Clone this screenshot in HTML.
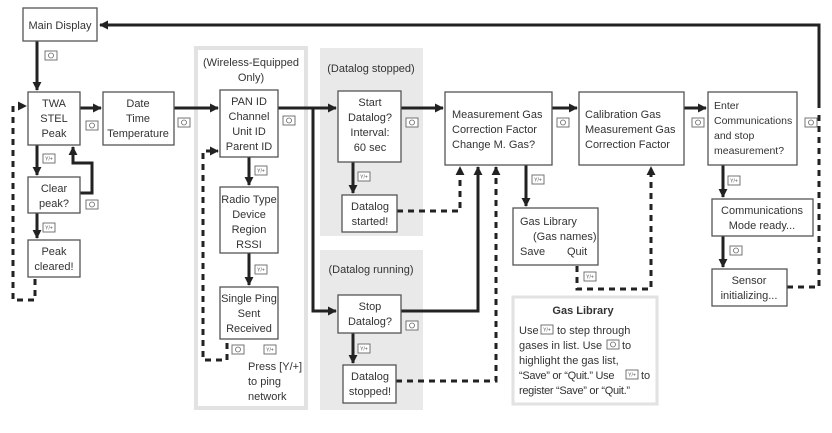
<!DOCTYPE html>
<html><head><meta charset="utf-8"><style>
html,body{margin:0;padding:0;background:#fff;}
svg{display:block;}
text{font-family:"Liberation Sans",sans-serif;font-size:11px;fill:#333;}
.c{text-anchor:middle;}
.b{fill:#fff;stroke:#555;stroke-width:1.3;}
.l{fill:none;stroke:#222;stroke-width:3;}
.d{fill:none;stroke:#222;stroke-width:3;stroke-dasharray:6,5;}
.ic{fill:#fff;stroke:#666;stroke-width:0.9;}
.it{font-size:5px;fill:#555;text-anchor:middle;}
</style></head><body>
<svg width="832" height="433" viewBox="0 0 832 433" xmlns="http://www.w3.org/2000/svg">
<defs>
<marker id="a" viewBox="0 0 10 10" refX="9" refY="5" markerWidth="3" markerHeight="3" orient="auto"><path d="M0,0 L10,5 L0,10 z" fill="#222"/></marker>
<g id="o"><rect class="ic" x="0" y="0" width="12" height="9"/><circle cx="6" cy="4.5" r="2.5" fill="none" stroke="#666" stroke-width="0.8"/></g>
<g id="y"><rect class="ic" x="0" y="0" width="12" height="9"/><text class="it" x="6" y="6.5">Y/+</text></g>
</defs>

<rect x="196" y="48" width="110" height="360" fill="#fff" stroke="#e2e2e2" stroke-width="4"/>
<rect x="320" y="48" width="103" height="188" fill="#e9e9e9"/>
<rect x="320" y="250" width="103" height="160" fill="#e9e9e9"/>
<rect x="513" y="297" width="144" height="107" fill="#fff" stroke="#e2e2e2" stroke-width="3"/>

<path class="l" d="M819,108 L819,25 L100,25" marker-end="url(#a)"/>
<path class="l" d="M37,41 L37,90" marker-end="url(#a)"/>
<path class="l" d="M80,108 L101,108" marker-end="url(#a)"/>
<path class="l" d="M174,108 L218,108" marker-end="url(#a)"/>
<path class="l" d="M37,145 L37,175" marker-end="url(#a)"/>
<path class="l" d="M37,213 L37,238" marker-end="url(#a)"/>
<path class="l" d="M80,193 L92,193 L92,163 L73,163 L73,147" marker-end="url(#a)"/>
<path class="d" d="M35,279 L35,300 L13,300 L13,106 L26,106" marker-end="url(#a)"/>
<path class="l" d="M249,157 L249,185" marker-end="url(#a)"/>
<path class="l" d="M249,253 L249,285" marker-end="url(#a)"/>
<path class="d" d="M227,343 L227,360 L203,360 L203,151 L218,151" marker-end="url(#a)"/>
<path class="l" d="M278,108 L336,108" marker-end="url(#a)"/>
<path class="l" d="M313,108 L313,311 L336,311" marker-end="url(#a)"/>
<path class="l" d="M401,108 L443,108" marker-end="url(#a)"/>
<path class="l" d="M353,162 L353,193" marker-end="url(#a)"/>
<path class="d" d="M397,211 L460,211 L460,167" marker-end="url(#a)"/>
<path class="l" d="M401,311 L478,311 L478,167" marker-end="url(#a)"/>
<path class="l" d="M353,333 L353,363" marker-end="url(#a)"/>
<path class="d" d="M396,381 L496,381 L496,167" marker-end="url(#a)"/>
<path class="l" d="M526,165 L526,206" marker-end="url(#a)"/>
<path class="l" d="M552,108 L577,108" marker-end="url(#a)"/>
<path class="d" d="M577,266 L577,289 L651,289 L651,167" marker-end="url(#a)"/>
<path class="l" d="M684,108 L706,108" marker-end="url(#a)"/>
<path class="l" d="M723,165 L723,197" marker-end="url(#a)"/>
<path class="l" d="M723,236 L723,267" marker-end="url(#a)"/>
<path class="d" d="M787,287 L819,287 L819,114"/>

<rect class="b" x="23" y="8" width="74" height="33"/><text class="c" x="60" y="29">Main Display</text>
<rect class="b" x="28" y="92" width="52" height="53"/>
<text class="c" x="54" y="107">TWA</text><text class="c" x="54" y="122">STEL</text><text class="c" x="54" y="137">Peak</text>
<rect class="b" x="28" y="177" width="52" height="36"/>
<text class="c" x="54" y="192">Clear</text><text class="c" x="54" y="207">peak?</text>
<rect class="b" x="28" y="240" width="52" height="37"/>
<text class="c" x="54" y="255">Peak</text><text class="c" x="54" y="270">cleared!</text>
<rect class="b" x="103" y="92" width="71" height="53"/>
<text class="c" x="138" y="107">Date</text><text class="c" x="138" y="122">Time</text><text class="c" x="138" y="137">Temperature</text>
<text class="c" x="251" y="66">(Wireless-Equipped</text><text class="c" x="251" y="81">Only)</text>
<rect class="b" x="220" y="90" width="58" height="67"/>
<text class="c" x="249" y="105">PAN ID</text><text class="c" x="249" y="120">Channel</text><text class="c" x="249" y="135">Unit ID</text><text class="c" x="249" y="150">Parent ID</text>
<rect class="b" x="220" y="187" width="58" height="66"/>
<text class="c" x="249" y="203">Radio Type</text><text class="c" x="249" y="218">Device</text><text class="c" x="249" y="233">Region</text><text class="c" x="249" y="248">RSSI</text>
<rect class="b" x="220" y="287" width="58" height="52"/>
<text class="c" x="249" y="302">Single Ping</text><text class="c" x="249" y="317">Sent</text><text class="c" x="249" y="332">Received</text>
<text x="248" y="370">Press [Y/+]</text><text x="248" y="385">to ping</text><text x="248" y="400">network</text>

<text class="c" x="371" y="72">(Datalog stopped)</text>
<rect class="b" x="338" y="91" width="63" height="71"/>
<text class="c" x="370" y="106">Start</text><text class="c" x="370" y="121">Datalog?</text><text class="c" x="370" y="136">Interval:</text><text class="c" x="370" y="151">60 sec</text>
<rect class="b" x="342" y="195" width="55" height="37"/>
<text class="c" x="370" y="210">Datalog</text><text class="c" x="370" y="225">started!</text>
<text class="c" x="371" y="273">(Datalog running)</text>
<rect class="b" x="338" y="295" width="63" height="38"/>
<text class="c" x="370" y="310">Stop</text><text class="c" x="370" y="325">Datalog?</text>
<rect class="b" x="343" y="365" width="53" height="38"/>
<text class="c" x="370" y="380">Datalog</text><text class="c" x="370" y="395">stopped!</text>

<rect class="b" x="445" y="92" width="107" height="73"/>
<text x="452" y="118">Measurement Gas</text><text x="452" y="133">Correction Factor</text><text x="452" y="148">Change M. Gas?</text>
<rect class="b" x="513" y="208" width="85" height="57"/>
<text x="520" y="225">Gas Library</text><text x="533" y="240">(Gas names)</text><text x="520" y="255">Save</text><text x="567" y="255">Quit</text>
<rect class="b" x="579" y="92" width="105" height="73"/>
<text x="585" y="118">Calibration Gas</text><text x="585" y="133">Measurement Gas</text><text x="585" y="148">Correction Factor</text>
<rect class="b" x="708" y="92" width="89" height="73"/>
<text x="714" y="109" style="font-size:10.5px">Enter</text><text x="714" y="124" style="font-size:10.5px">Communications</text><text x="714" y="139" style="font-size:10.5px">and stop</text><text x="714" y="154" style="font-size:10.5px">measurement?</text>
<rect class="b" x="712" y="199" width="101" height="37"/>
<text class="c" x="762" y="214">Communications</text><text class="c" x="762" y="229">Mode ready...</text>
<rect class="b" x="712" y="269" width="75" height="37"/>
<text class="c" x="749" y="284">Sensor</text><text class="c" x="749" y="299">initializing...</text>

<text class="c" x="583" y="314" style="font-weight:bold">Gas Library</text>
<text x="519" y="334">Use</text><use href="#y" x="541" y="325"/><text x="557" y="334">to step through</text>
<text x="519" y="349">gases in list. Use</text><use href="#o" x="607" y="340"/><text x="622" y="349">to</text>
<text x="519" y="364">highlight the gas list,</text>
<text x="519" y="379" style="letter-spacing:-0.3px">“Save” or “Quit.” Use</text><use href="#y" x="626" y="370"/><text x="641" y="379">to</text>
<text x="519" y="394" style="letter-spacing:-0.3px">register “Save” or “Quit.”</text>

<use href="#o" x="45" y="51"/>
<use href="#o" x="86" y="121"/>
<use href="#y" x="43" y="154"/>
<use href="#o" x="86" y="200"/>
<use href="#y" x="43" y="223"/>
<use href="#o" x="178" y="118"/>
<use href="#o" x="283" y="116"/>
<use href="#y" x="255" y="166"/>
<use href="#y" x="255" y="265"/>
<use href="#o" x="232" y="345"/>
<use href="#y" x="264" y="345"/>
<use href="#o" x="406" y="118"/>
<use href="#y" x="358" y="172"/>
<use href="#o" x="406" y="321"/>
<use href="#y" x="358" y="344"/>
<use href="#o" x="557" y="118"/>
<use href="#y" x="532" y="175"/>
<use href="#y" x="584" y="272"/>
<use href="#o" x="692" y="118"/>
<use href="#y" x="728" y="176"/>
<use href="#o" x="805" y="118"/>
<use href="#o" x="730" y="246"/>
</svg>
</body></html>
